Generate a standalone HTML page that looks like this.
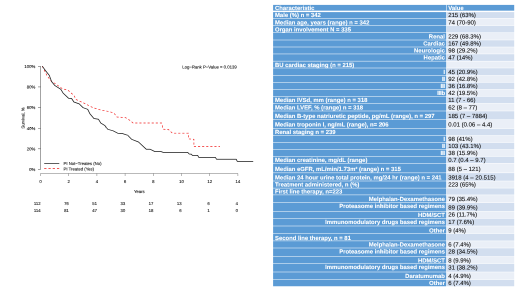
<!DOCTYPE html>
<html><head><meta charset="utf-8"><title>Figure</title>
<style>
html,body{margin:0;padding:0;background:#fff}
body{width:520px;height:292px;position:relative;overflow:hidden;font-family:"Liberation Sans",sans-serif}
#s{position:absolute;left:0;top:0;width:1040px;height:584px;transform:scale(.5);transform-origin:0 0;will-change:transform;background:#fff}
svg text{font-family:"Liberation Sans",sans-serif;text-rendering:geometricPrecision}
.km text{font-size:4.25px;fill:#111;stroke:#111;stroke-width:0.1px}
.tbl text{font-size:5.92px}
.tbl .a{fill:#fff;font-weight:bold;stroke:#fff;stroke-width:0.08px}
.tbl .v{fill:#111;font-size:6.0px;stroke:#111;stroke-width:0.1px}
</style></head><body><div id="s">
<svg class="km" width="520" height="584" viewBox="0 0 260 292" style="position:absolute;left:0;top:0">
<path d="M40.6,66.3 V169.45" stroke="#333" stroke-width="0.45" fill="none"/>
<path d="M38,66.30 H40.6" stroke="#333" stroke-width="0.45"/>
<text x="35.3" y="67.90" text-anchor="end">100%</text>
<path d="M38,86.93 H40.6" stroke="#333" stroke-width="0.45"/>
<text x="35.3" y="88.53" text-anchor="end">80%</text>
<path d="M38,107.56 H40.6" stroke="#333" stroke-width="0.45"/>
<text x="35.3" y="109.16" text-anchor="end">60%</text>
<path d="M38,128.19 H40.6" stroke="#333" stroke-width="0.45"/>
<text x="35.3" y="129.79" text-anchor="end">40%</text>
<path d="M38,148.82 H40.6" stroke="#333" stroke-width="0.45"/>
<text x="35.3" y="150.42" text-anchor="end">20%</text>
<path d="M38,169.45 H40.6" stroke="#333" stroke-width="0.45"/>
<text x="35.3" y="171.05" text-anchor="end">0%</text>
<text transform="translate(24.6,118) rotate(-90)" text-anchor="middle">Survival, %</text>
<path d="M40.5,173.5 H237.90" stroke="#222" stroke-width="0.32" fill="none"/>
<path d="M40.50,173.5 V176.0" stroke="#222" stroke-width="0.32"/>
<text x="40.50" y="183.0" text-anchor="middle">0</text>
<text x="40.60" y="204.8" text-anchor="end">112</text>
<text x="40.60" y="212.0" text-anchor="end">114</text>
<path d="M68.70,173.5 V176.0" stroke="#222" stroke-width="0.32"/>
<text x="68.70" y="183.0" text-anchor="middle">2</text>
<text x="68.80" y="204.8" text-anchor="end">76</text>
<text x="68.80" y="212.0" text-anchor="end">81</text>
<path d="M96.90,173.5 V176.0" stroke="#222" stroke-width="0.32"/>
<text x="96.90" y="183.0" text-anchor="middle">4</text>
<text x="97.00" y="204.8" text-anchor="end">51</text>
<text x="97.00" y="212.0" text-anchor="end">47</text>
<path d="M125.10,173.5 V176.0" stroke="#222" stroke-width="0.32"/>
<text x="125.10" y="183.0" text-anchor="middle">6</text>
<text x="125.20" y="204.8" text-anchor="end">33</text>
<text x="125.20" y="212.0" text-anchor="end">30</text>
<path d="M153.30,173.5 V176.0" stroke="#222" stroke-width="0.32"/>
<text x="153.30" y="183.0" text-anchor="middle">8</text>
<text x="153.40" y="204.8" text-anchor="end">17</text>
<text x="153.40" y="212.0" text-anchor="end">18</text>
<path d="M181.50,173.5 V176.0" stroke="#222" stroke-width="0.32"/>
<text x="181.50" y="183.0" text-anchor="middle">10</text>
<text x="181.60" y="204.8" text-anchor="end">13</text>
<text x="181.60" y="212.0" text-anchor="end">6</text>
<path d="M209.70,173.5 V176.0" stroke="#222" stroke-width="0.32"/>
<text x="209.70" y="183.0" text-anchor="middle">12</text>
<text x="209.80" y="204.8" text-anchor="end">6</text>
<text x="209.80" y="212.0" text-anchor="end">1</text>
<path d="M237.90,173.5 V176.0" stroke="#222" stroke-width="0.32"/>
<text x="237.90" y="183.0" text-anchor="middle">14</text>
<text x="238.00" y="204.8" text-anchor="end">4</text>
<text x="238.00" y="212.0" text-anchor="end">0</text>
<text x="139.3" y="192.8" text-anchor="middle">Years</text>
<text x="182.3" y="68.7">Log−Rank P−Value = 0.0139</text>
<path d="M42.3,66.2 L46.9,75.4 L50.8,80.8 L56.2,84.3 L62.4,88.8 L67.8,90.0 L73.9,95.4 L76.2,99.6 L83.9,103.1 L93.1,107.7 L100.8,110.0 L109.3,111.6 L113.9,113.1 L117.0,117.0 L125.4,117.6 L130.0,120.4 L133.1,123.0 L161.6,123.0 L163.2,129.2 L168.6,129.6 L172.4,133.2 L188.5,133.2 L188.5,138.9 L193.9,139.3 L193.9,146.6 L220.0,146.6" stroke="#f02020" stroke-width="0.68" stroke-dasharray="2.1 2.0" fill="none"/>
<path d="M42.3,66.2 L45.4,70.5 L49.3,75.4 L51.6,81.6 L54.7,85.4 L60.8,89.3 L63.1,93.1 L68.5,98.2 L71.6,98.5 L73.9,102.0 L79.2,103.9 L83.1,107.7 L87.7,109.3 L90.0,113.9 L93.9,118.5 L98.5,119.3 L100.8,123.1 L104.7,125.4 L107.8,129.3 L113.1,130.8 L117.7,133.2 L122.3,133.5 L127.7,135.3 L131.6,139.3 L138.5,142.0 L146.2,149.2 L150.0,149.2 L154.7,151.5 L160.8,151.5 L163.2,152.4 L187.7,152.4 L189.2,154.0 L191.6,154.3 L192.3,155.4 L197.7,155.4 L198.8,157.4 L215.4,157.4 L216.5,159.2 L236.2,159.2 L237.3,161.4 L253.2,161.4" stroke="#1a1a1a" stroke-width="0.75" fill="none" stroke-linejoin="round"/>
<path d="M44.2,163.45 H59.3" stroke="#1a1a1a" stroke-width="0.7"/>
<path d="M44.2,168.5 H59.3" stroke="#ee2222" stroke-width="0.65" stroke-dasharray="2.25 2.0"/>
<text x="63.5" y="164.8">PI Not−Treates (No)</text>
<text x="63.5" y="170.25">PI Treated (Yes)</text>
</svg>
<svg class="tbl" width="520" height="584" viewBox="260 0 260 292" style="position:absolute;left:520px;top:0">
<rect x="273.1" y="4.90" width="173.10" height="5.76" fill="#5b9bd5"/><rect x="446.75" y="4.90" width="67.45" height="5.76" fill="#5b9bd5"/>
<rect x="273.1" y="12.10" width="173.10" height="5.95" fill="#5b9bd5"/><rect x="446.75" y="12.10" width="67.45" height="5.95" fill="#d2deef"/>
<rect x="273.1" y="18.55" width="173.10" height="6.80" fill="#5b9bd5"/><rect x="446.75" y="18.55" width="67.45" height="6.80" fill="#eaeff7"/>
<rect x="273.1" y="25.85" width="173.10" height="6.60" fill="#5b9bd5"/><rect x="446.75" y="25.85" width="67.45" height="6.60" fill="#d2deef"/>
<rect x="273.1" y="32.95" width="173.10" height="6.80" fill="#5b9bd5"/><rect x="446.75" y="32.95" width="67.45" height="6.80" fill="#eaeff7"/>
<rect x="273.1" y="40.25" width="173.10" height="6.50" fill="#5b9bd5"/><rect x="446.75" y="40.25" width="67.45" height="6.50" fill="#d2deef"/>
<rect x="273.1" y="47.25" width="173.10" height="6.45" fill="#5b9bd5"/><rect x="446.75" y="47.25" width="67.45" height="6.45" fill="#eaeff7"/>
<rect x="273.1" y="54.20" width="173.10" height="6.70" fill="#5b9bd5"/><rect x="446.75" y="54.20" width="67.45" height="6.70" fill="#d2deef"/>
<rect x="273.1" y="61.40" width="173.10" height="6.35" fill="#5b9bd5"/><rect x="446.75" y="61.40" width="67.45" height="6.35" fill="#eaeff7"/>
<rect x="273.1" y="68.25" width="173.10" height="6.95" fill="#5b9bd5"/><rect x="446.75" y="68.25" width="67.45" height="6.95" fill="#d2deef"/>
<rect x="273.1" y="75.70" width="173.10" height="6.45" fill="#5b9bd5"/><rect x="446.75" y="75.70" width="67.45" height="6.45" fill="#eaeff7"/>
<rect x="273.1" y="82.65" width="173.10" height="6.55" fill="#5b9bd5"/><rect x="446.75" y="82.65" width="67.45" height="6.55" fill="#d2deef"/>
<rect x="273.1" y="89.70" width="173.10" height="6.45" fill="#5b9bd5"/><rect x="446.75" y="89.70" width="67.45" height="6.45" fill="#eaeff7"/>
<rect x="273.1" y="96.65" width="173.10" height="6.50" fill="#5b9bd5"/><rect x="446.75" y="96.65" width="67.45" height="6.50" fill="#d2deef"/>
<rect x="273.1" y="103.65" width="173.10" height="7.10" fill="#5b9bd5"/><rect x="446.75" y="103.65" width="67.45" height="7.10" fill="#eaeff7"/>
<rect x="273.1" y="111.25" width="173.10" height="8.20" fill="#5b9bd5"/><rect x="446.75" y="111.25" width="67.45" height="8.20" fill="#d2deef"/>
<rect x="273.1" y="119.95" width="173.10" height="8.40" fill="#5b9bd5"/><rect x="446.75" y="119.95" width="67.45" height="8.40" fill="#eaeff7"/>
<rect x="273.1" y="128.85" width="173.10" height="6.40" fill="#5b9bd5"/><rect x="446.75" y="128.85" width="67.45" height="6.40" fill="#d2deef"/>
<rect x="273.1" y="135.75" width="173.10" height="6.55" fill="#5b9bd5"/><rect x="446.75" y="135.75" width="67.45" height="6.55" fill="#eaeff7"/>
<rect x="273.1" y="142.80" width="173.10" height="6.45" fill="#5b9bd5"/><rect x="446.75" y="142.80" width="67.45" height="6.45" fill="#d2deef"/>
<rect x="273.1" y="149.75" width="173.10" height="6.50" fill="#5b9bd5"/><rect x="446.75" y="149.75" width="67.45" height="6.50" fill="#eaeff7"/>
<rect x="273.1" y="156.75" width="173.10" height="6.30" fill="#5b9bd5"/><rect x="446.75" y="156.75" width="67.45" height="6.30" fill="#d2deef"/>
<rect x="273.1" y="163.55" width="173.10" height="9.05" fill="#5b9bd5"/><rect x="446.75" y="163.55" width="67.45" height="9.05" fill="#eaeff7"/>
<rect x="273.1" y="173.10" width="173.10" height="7.65" fill="#5b9bd5"/><rect x="446.75" y="173.10" width="67.45" height="7.65" fill="#d2deef"/>
<rect x="273.1" y="181.25" width="173.10" height="6.60" fill="#5b9bd5"/><rect x="446.75" y="181.25" width="67.45" height="6.60" fill="#eaeff7"/>
<rect x="273.1" y="188.35" width="173.10" height="6.30" fill="#5b9bd5"/><rect x="446.75" y="188.35" width="67.45" height="6.30" fill="#d2deef"/>
<rect x="273.1" y="195.15" width="173.10" height="7.30" fill="#5b9bd5"/><rect x="446.75" y="195.15" width="67.45" height="7.30" fill="#eaeff7"/>
<rect x="273.1" y="202.95" width="173.10" height="8.15" fill="#5b9bd5"/><rect x="446.75" y="202.95" width="67.45" height="8.15" fill="#d2deef"/>
<rect x="273.1" y="211.60" width="173.10" height="6.55" fill="#5b9bd5"/><rect x="446.75" y="211.60" width="67.45" height="6.55" fill="#eaeff7"/>
<rect x="273.1" y="218.65" width="173.10" height="7.10" fill="#5b9bd5"/><rect x="446.75" y="218.65" width="67.45" height="7.10" fill="#d2deef"/>
<rect x="273.1" y="226.25" width="173.10" height="7.10" fill="#5b9bd5"/><rect x="446.75" y="226.25" width="67.45" height="7.10" fill="#eaeff7"/>
<rect x="273.1" y="233.85" width="173.10" height="6.80" fill="#5b9bd5"/><rect x="446.75" y="233.85" width="67.45" height="6.80" fill="#d2deef"/>
<rect x="273.1" y="241.15" width="173.10" height="6.60" fill="#5b9bd5"/><rect x="446.75" y="241.15" width="67.45" height="6.60" fill="#eaeff7"/>
<rect x="273.1" y="248.25" width="173.10" height="8.05" fill="#5b9bd5"/><rect x="446.75" y="248.25" width="67.45" height="8.05" fill="#d2deef"/>
<rect x="273.1" y="256.80" width="173.10" height="6.55" fill="#5b9bd5"/><rect x="446.75" y="256.80" width="67.45" height="6.55" fill="#eaeff7"/>
<rect x="273.1" y="263.85" width="173.10" height="7.90" fill="#5b9bd5"/><rect x="446.75" y="263.85" width="67.45" height="7.90" fill="#d2deef"/>
<rect x="273.1" y="272.25" width="173.10" height="7.10" fill="#5b9bd5"/><rect x="446.75" y="272.25" width="67.45" height="7.10" fill="#eaeff7"/>
<rect x="273.1" y="279.85" width="173.10" height="6.40" fill="#5b9bd5"/><rect x="446.75" y="279.85" width="67.45" height="6.40" fill="#d2deef"/>
<text class="a" transform="translate(275.00,10.10) scale(1,1.0)">Characteristic</text>
<text class="a" transform="translate(448.25,10.10) scale(1,1.0)">Value</text>
<text class="a" transform="translate(275.00,17.10) scale(1,1.0)">Male (%) n = 342</text>
<text class="v" transform="translate(448.25,17.10) scale(1,1.0)">215 (63%)</text>
<text class="a" transform="translate(275.00,24.35) scale(1,1.0)">Median age, years (range) n = 342</text>
<text class="v" transform="translate(448.25,24.35) scale(1,1.0)">74 (70-90)</text>
<text class="a" transform="translate(275.00,31.30) scale(1,1.0)">Organ involvement N = 335</text>
<text class="a" text-anchor="end" transform="translate(444.90,38.74) scale(1,1.0)">Renal</text>
<text class="v" transform="translate(448.25,38.74) scale(1,1.0)">229 (68.3%)</text>
<text class="a" text-anchor="end" transform="translate(444.90,45.73) scale(1,1.0)">Cardiac</text>
<text class="v" transform="translate(448.25,45.73) scale(1,1.0)">167 (49.8%)</text>
<text class="a" text-anchor="end" transform="translate(444.90,52.73) scale(1,1.0)">Neurologic</text>
<text class="v" transform="translate(448.25,52.73) scale(1,1.0)">98 (29.2%)</text>
<text class="a" text-anchor="end" transform="translate(444.90,59.72) scale(1,1.0)">Hepatic</text>
<text class="v" transform="translate(448.25,59.72) scale(1,1.0)">47 (14%)</text>
<text class="a" transform="translate(275.00,66.90) scale(1,1.0)">BU cardiac staging (n = 215)</text>
<text class="a" text-anchor="end" letter-spacing="-0.18" transform="translate(444.90,73.97) scale(1,1.0)">I</text>
<text class="v" transform="translate(448.25,73.97) scale(1,1.0)">45 (20.9%)</text>
<text class="a" text-anchor="end" letter-spacing="-0.18" transform="translate(444.90,80.96) scale(1,1.0)">II</text>
<text class="v" transform="translate(448.25,80.96) scale(1,1.0)">92 (42.8%)</text>
<text class="a" text-anchor="end" letter-spacing="-0.18" transform="translate(444.90,87.95) scale(1,1.0)">III</text>
<text class="v" transform="translate(448.25,87.95) scale(1,1.0)">36 (16.8%)</text>
<text class="a" text-anchor="end" letter-spacing="-0.18" transform="translate(444.90,95.00) scale(1,1.0)">IIIb</text>
<text class="v" transform="translate(448.25,95.00) scale(1,1.0)">42 (19.5%)</text>
<text class="a" transform="translate(275.00,102.00) scale(1,1.0)">Median IVSd, mm (range) n = 318</text>
<text class="v" transform="translate(448.25,102.00) scale(1,1.0)">11 (7 - 66)</text>
<text class="a" transform="translate(275.00,109.30) scale(1,1.0)">Median LVEF, % (range) n = 318</text>
<text class="v" transform="translate(448.25,109.30) scale(1,1.0)">62 (8 – 77)</text>
<text class="a" transform="translate(275.00,117.80) scale(1,1.0)">Median B-type natriuretic peptide, pg/mL (range), n = 297</text>
<text class="v" transform="translate(448.25,117.80) scale(1,1.0)">185 (7 – 7884)</text>
<text class="a" transform="translate(275.00,126.60) scale(1,1.0)">Median troponin I, ng/mL (range), n= 206</text>
<text class="v" transform="translate(448.25,126.60) scale(1,1.0)">0.01 (0.06 – 4.4)</text>
<text class="a" transform="translate(275.00,134.00) scale(1,1.0)">Renal staging n = 239</text>
<text class="a" text-anchor="end" letter-spacing="-0.18" transform="translate(444.90,140.90) scale(1,1.0)">I</text>
<text class="v" transform="translate(448.25,140.90) scale(1,1.0)">98 (41%)</text>
<text class="a" text-anchor="end" letter-spacing="-0.18" transform="translate(444.90,147.85) scale(1,1.0)">II</text>
<text class="v" transform="translate(448.25,147.85) scale(1,1.0)">103 (43.1%)</text>
<text class="a" text-anchor="end" letter-spacing="-0.18" transform="translate(444.90,155.00) scale(1,1.0)">III</text>
<text class="v" transform="translate(448.25,155.00) scale(1,1.0)">38 (15.9%)</text>
<text class="a" transform="translate(275.00,162.05) scale(1,1.0)">Median creatinine, mg/dL (range)</text>
<text class="v" transform="translate(448.25,162.05) scale(1,1.0)">0.7 (0.4 – 9.7)</text>
<text class="a" transform="translate(275.00,170.90) scale(1,1.0)">Median eGFR, mL/min/1.73m² (range) n = 315</text>
<text class="v" transform="translate(448.25,170.90) scale(1,1.0)">88 (5 – 121)</text>
<text class="a" transform="translate(275.00,179.56) scale(1,1.0)">Median 24 hour urine total protein, mg/24 hr (range) n = 241</text>
<text class="v" transform="translate(448.25,179.56) scale(1,1.0)">3918 (4 – 20.515)</text>
<text class="a" transform="translate(275.00,186.55) scale(1,1.0)">Treatment administered, n (%)</text>
<text class="v" transform="translate(448.25,186.55) scale(1,1.0)">223 (65%)</text>
<text class="a" transform="translate(275.00,193.40) scale(1,1.0)">First line therapy, n=223</text>
<text class="a" text-anchor="end" transform="translate(444.90,200.90) scale(1,1.0)">Melphalan-Dexamethasone</text>
<text class="v" transform="translate(448.25,200.90) scale(1,1.0)">79 (35.4%)</text>
<text class="a" text-anchor="end" transform="translate(444.90,208.20) scale(1,1.0)">Proteasome inhibitor based regimens</text>
<text class="v" transform="translate(448.25,209.65) scale(1,1.0)">89 (39.9%)</text>
<text class="a" text-anchor="end" transform="translate(444.90,217.00) scale(1,1.0)">HDM/SCT</text>
<text class="v" transform="translate(448.25,216.65) scale(1,1.0)">26 (11.7%)</text>
<text class="a" text-anchor="end" transform="translate(444.90,223.87) scale(1,1.0)">Immunomodulatory drugs based regimens</text>
<text class="v" transform="translate(448.25,223.87) scale(1,1.0)">17 (7.6%)</text>
<text class="a" text-anchor="end" transform="translate(444.90,232.50) scale(1,1.0)">Other</text>
<text class="v" transform="translate(448.25,232.50) scale(1,1.0)">9 (4%)</text>
<text class="a" transform="translate(275.00,239.80) scale(1,1.0)">Second line therapy, n = 81</text>
<text class="a" text-anchor="end" transform="translate(444.90,246.50) scale(1,1.0)">Melphalan-Dexamethasone</text>
<text class="v" transform="translate(448.25,246.50) scale(1,1.0)">6 (7.4%)</text>
<text class="a" text-anchor="end" transform="translate(444.90,253.60) scale(1,1.0)">Proteasome inhibitor based regimens</text>
<text class="v" transform="translate(448.25,253.60) scale(1,1.0)">28 (34.5%)</text>
<text class="a" text-anchor="end" transform="translate(444.90,262.26) scale(1,1.0)">HDM/SCT</text>
<text class="v" transform="translate(448.25,262.26) scale(1,1.0)">8 (9.9%)</text>
<text class="a" text-anchor="end" transform="translate(444.90,269.10) scale(1,1.0)">Immunomodulatory drugs based regimens</text>
<text class="v" transform="translate(448.25,269.70) scale(1,1.0)">31 (38.2%)</text>
<text class="a" text-anchor="end" transform="translate(444.90,277.87) scale(1,1.0)">Daratumumab</text>
<text class="v" transform="translate(448.25,277.87) scale(1,1.0)">4 (4.9%)</text>
<text class="a" text-anchor="end" transform="translate(444.90,284.98) scale(1,1.0)">Other</text>
<text class="v" transform="translate(448.25,284.98) scale(1,1.0)">6 (7.4%)</text>
</svg>
</div></body></html>
